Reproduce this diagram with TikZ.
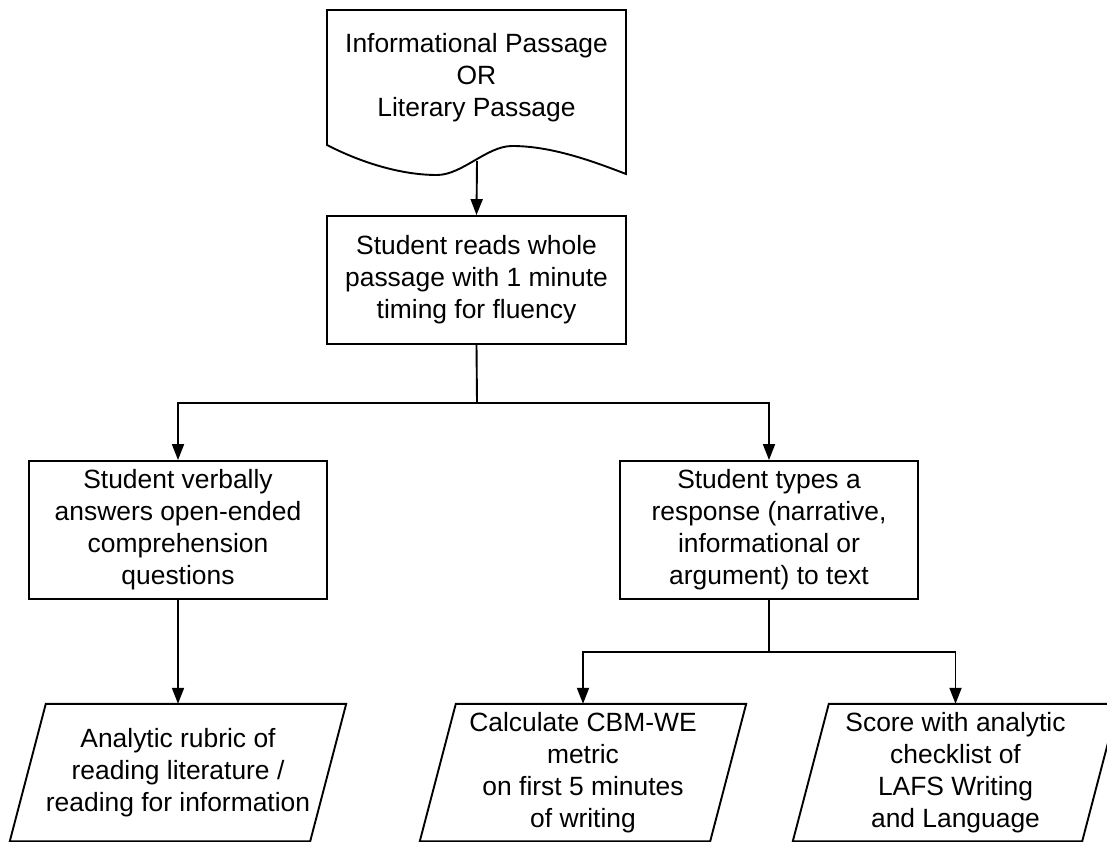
\documentclass[tikz,border=0pt]{standalone}
\usepackage{fontspec}
\setmainfont{Liberation Sans}
\usetikzlibrary{arrows.meta}
\begin{document}
\begin{tikzpicture}[x=1pt,y=-1pt,
  every node/.style={font=\fontsize{26.4}{32}\selectfont, align=center, inner sep=0pt, text=black},
  shapeline/.style={draw=black, line width=1.9pt, line join=miter},
  conn/.style={draw=black, line width=1.9pt},
  arr/.style={conn, -{Triangle[width=12pt,length=16pt]}},
  procbox/.style={shapeline, rectangle, minimum width=#1, minimum height=138},
  ioshape/.style={rectangle, minimum height=137, minimum width=#1}
]
\useasboundingbox (0,0) rectangle (1107,842);
\fill[white] (0,0) rectangle (1107,842);

% document shape
\node (doc) at (476.5,78) {Informational Passage\\OR\\Literary Passage};
\draw[shapeline] (327,10) -- (626,10) -- (626,174)
  .. controls (590,160) and (550,146) .. (512,146)
  .. controls (487,146) and (462,175) .. (437,175)
  .. controls (400,175) and (360,162) .. (327,145) -- cycle;
\coordinate (docb) at (477,161);

% process boxes
\node[shapeline, rectangle, minimum width=299, minimum height=128] (read) at (476.5,280)
  {Student reads whole\\passage with 1 minute\\timing for fluency};
\node[procbox=298] (verbal) at (178,530)
  {Student verbally\\answers open-ended\\comprehension\\questions};
\node[procbox=298] (types) at (769,530)
  {Student types a\\response (narrative,\\informational or\\argument) to text};

% parallelograms (input/output)
\node[ioshape=336] (rubric) at (178,772.5)
  {Analytic rubric of\\reading literature /\\reading for information};
\node[ioshape=326] (cbm) at (583,772.5)
  {Calculate CBM-WE\\metric\\on first 5 minutes\\of writing};
\node[ioshape=325] (score) at (955.5,772.5)
  {Score with analytic\\checklist of\\LAFS Writing\\and Language};
\foreach \n in {rubric,cbm,score}{
  \draw[shapeline] ([xshift=36pt]\n.north west) -- (\n.north east)
    -- ([xshift=-36pt]\n.south east) -- (\n.south west) -- cycle;
}

% connectors
\coordinate (j1) at (477,403);
\coordinate (j2) at (769,652);
\draw[arr] (docb) -- (read.north);
\draw[conn] (read.south) -- (j1);
\draw[arr] (j1) -| (verbal.north);
\draw[arr] (j1) -| (types.north);
\draw[arr] (verbal.south) -- (rubric.north);
\draw[conn] (types.south) -- (j2);
\draw[arr] (j2) -| (cbm.north);
\draw[arr] (j2) -| (score.north);
\end{tikzpicture}
\end{document}
